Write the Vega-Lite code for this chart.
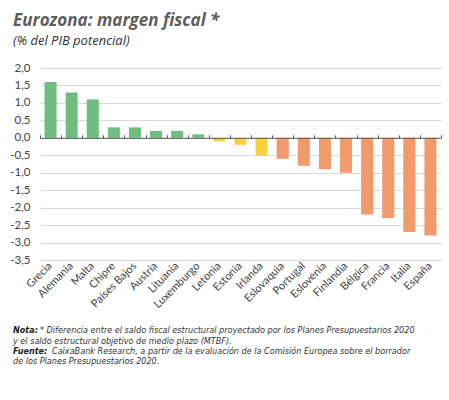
{
  "$schema": "https://vega.github.io/schema/vega-lite/v6.json",
  "width": 401,
  "height": 192,
  "autosize": {"type": "none"},
  "padding": {"left": 40, "top": 68, "right": 8, "bottom": 140},
  "background": "white",
  "config": {
    "locale": {"number": {"decimal": ",", "thousands": ".", "grouping": [3], "currency": ["", " €"], "minus": "-"}},
    "view": {"stroke": null},
    "font": "Lato"
  },
  "title": {
    "text": "Eurozona: margen fiscal *",
    "subtitle": "(% del PIB potencial)",
    "anchor": "start",
    "frame": "group",
    "dx": -27,
    "offset": 13,
    "font": "Open Sans",
    "fontSize": 17,
    "fontStyle": "italic",
    "fontWeight": "bold",
    "color": "#5e5e5e",
    "subtitleFont": "Open Sans",
    "subtitleFontSize": 13,
    "subtitleFontStyle": "italic",
    "subtitleColor": "#333333",
    "subtitlePadding": 5
  },
  "data": {
    "values": [
      {"pais": "Grecia", "valor": 1.6, "grupo": "pos"},
      {"pais": "Alemania", "valor": 1.3, "grupo": "pos"},
      {"pais": "Malta", "valor": 1.1, "grupo": "pos"},
      {"pais": "Chipre", "valor": 0.3, "grupo": "pos"},
      {"pais": "Países Bajos", "valor": 0.3, "grupo": "pos"},
      {"pais": "Austria", "valor": 0.2, "grupo": "pos"},
      {"pais": "Lituania", "valor": 0.2, "grupo": "pos"},
      {"pais": "Luxemburgo", "valor": 0.1, "grupo": "pos"},
      {"pais": "Letonia", "valor": -0.1, "grupo": "leve"},
      {"pais": "Estonia", "valor": -0.2, "grupo": "leve"},
      {"pais": "Irlanda", "valor": -0.5, "grupo": "leve"},
      {"pais": "Eslovaquia", "valor": -0.6, "grupo": "neg"},
      {"pais": "Portugal", "valor": -0.8, "grupo": "neg"},
      {"pais": "Eslovenia", "valor": -0.9, "grupo": "neg"},
      {"pais": "Finlandia", "valor": -1.0, "grupo": "neg"},
      {"pais": "Bélgica", "valor": -2.2, "grupo": "neg"},
      {"pais": "Francia", "valor": -2.3, "grupo": "neg"},
      {"pais": "Italia", "valor": -2.7, "grupo": "neg"},
      {"pais": "España", "valor": -2.8, "grupo": "neg"}
    ]
  },
  "resolve": {"axis": {"x": "independent"}},
  "layer": [
    {
      "mark": {"type": "bar", "width": {"band": 0.57}},
      "encoding": {
        "x": {
          "field": "pais", "type": "nominal", "sort": null,
          "scale": {"paddingInner": 0, "paddingOuter": 0},
          "axis": {
            "title": null, "labelAngle": -45, "labelAlign": "right", "labelBaseline": "middle",
            "domain": false, "ticks": false, "labelPadding": 4, "labelOverlap": false,
            "labelFont": "Lato", "labelFontSize": 11, "labelColor": "#444444"
          }
        },
        "y": {
          "field": "valor", "type": "quantitative",
          "scale": {"domain": [-3.5, 2], "nice": false},
          "axis": {
            "title": null, "values": [-3.5, -3, -2.5, -2, -1.5, -1, -0.5, 0, 0.5, 1, 1.5, 2],
            "format": ".1f", "domain": false, "ticks": false, "labelPadding": 10, "labelOverlap": false,
            "grid": true, "gridColor": "#d9d9d9", "gridWidth": 1,
            "labelFont": "Lato", "labelFontSize": 11.5, "labelColor": "#444444"
          }
        },
        "color": {
          "field": "grupo", "type": "nominal", "legend": null,
          "scale": {"domain": ["pos", "leve", "neg"], "range": ["#6fbe80", "#f6d23c", "#f19a6c"]}
        }
      }
    },
    {
      "mark": {"type": "rule", "opacity": 0},
      "encoding": {
        "x": {
          "field": "pais", "type": "nominal", "sort": null,
          "axis": {
            "title": null, "orient": "top", "offset": -69.8, "labels": false,
            "domain": true, "domainColor": "#555555", "domainWidth": 1,
            "ticks": true, "tickBand": "extent", "tickSize": 3, "tickColor": "#555555",
            "grid": false, "zindex": 1
          }
        }
      }
    },
    {
      "data": {"values": [{"t": "Nota:"}]},
      "mark": {"type": "text", "align": "left", "baseline": "middle", "font": "DejaVu Sans Condensed", "fontSize": 9, "fontStyle": "italic", "fontWeight": "bold", "color": "#222222"},
      "encoding": {"text": {"field": "t"}, "x": {"value": -27}, "y": {"value": 262}}
    },
    {
      "data": {"values": [{"t": "* Diferencia entre el saldo fiscal estructural proyectado por los Planes Presupuestarios 2020"}]},
      "mark": {"type": "text", "align": "left", "baseline": "middle", "font": "DejaVu Sans Condensed", "fontSize": 9, "fontStyle": "italic", "color": "#333333"},
      "encoding": {"text": {"field": "t"}, "x": {"value": 0}, "y": {"value": 262}}
    },
    {
      "data": {"values": [{"t": "y el saldo estructural objetivo de medio plazo (MTBF)."}]},
      "mark": {"type": "text", "align": "left", "baseline": "middle", "font": "DejaVu Sans Condensed", "fontSize": 9, "fontStyle": "italic", "color": "#333333"},
      "encoding": {"text": {"field": "t"}, "x": {"value": -27}, "y": {"value": 272.5}}
    },
    {
      "data": {"values": [{"t": "Fuente:"}]},
      "mark": {"type": "text", "align": "left", "baseline": "middle", "font": "DejaVu Sans Condensed", "fontSize": 9, "fontStyle": "italic", "fontWeight": "bold", "color": "#222222"},
      "encoding": {"text": {"field": "t"}, "x": {"value": -27}, "y": {"value": 283}}
    },
    {
      "data": {"values": [{"t": "CaixaBank Research, a partir de la evaluación de la Comisión Europea sobre el borrador"}]},
      "mark": {"type": "text", "align": "left", "baseline": "middle", "font": "DejaVu Sans Condensed", "fontSize": 9, "fontStyle": "italic", "color": "#333333"},
      "encoding": {"text": {"field": "t"}, "x": {"value": 12}, "y": {"value": 283}}
    },
    {
      "data": {"values": [{"t": "de los Planes Presupuestarios 2020."}]},
      "mark": {"type": "text", "align": "left", "baseline": "middle", "font": "DejaVu Sans Condensed", "fontSize": 9, "fontStyle": "italic", "color": "#333333"},
      "encoding": {"text": {"field": "t"}, "x": {"value": -27}, "y": {"value": 292.5}}
    }
  ]
}
